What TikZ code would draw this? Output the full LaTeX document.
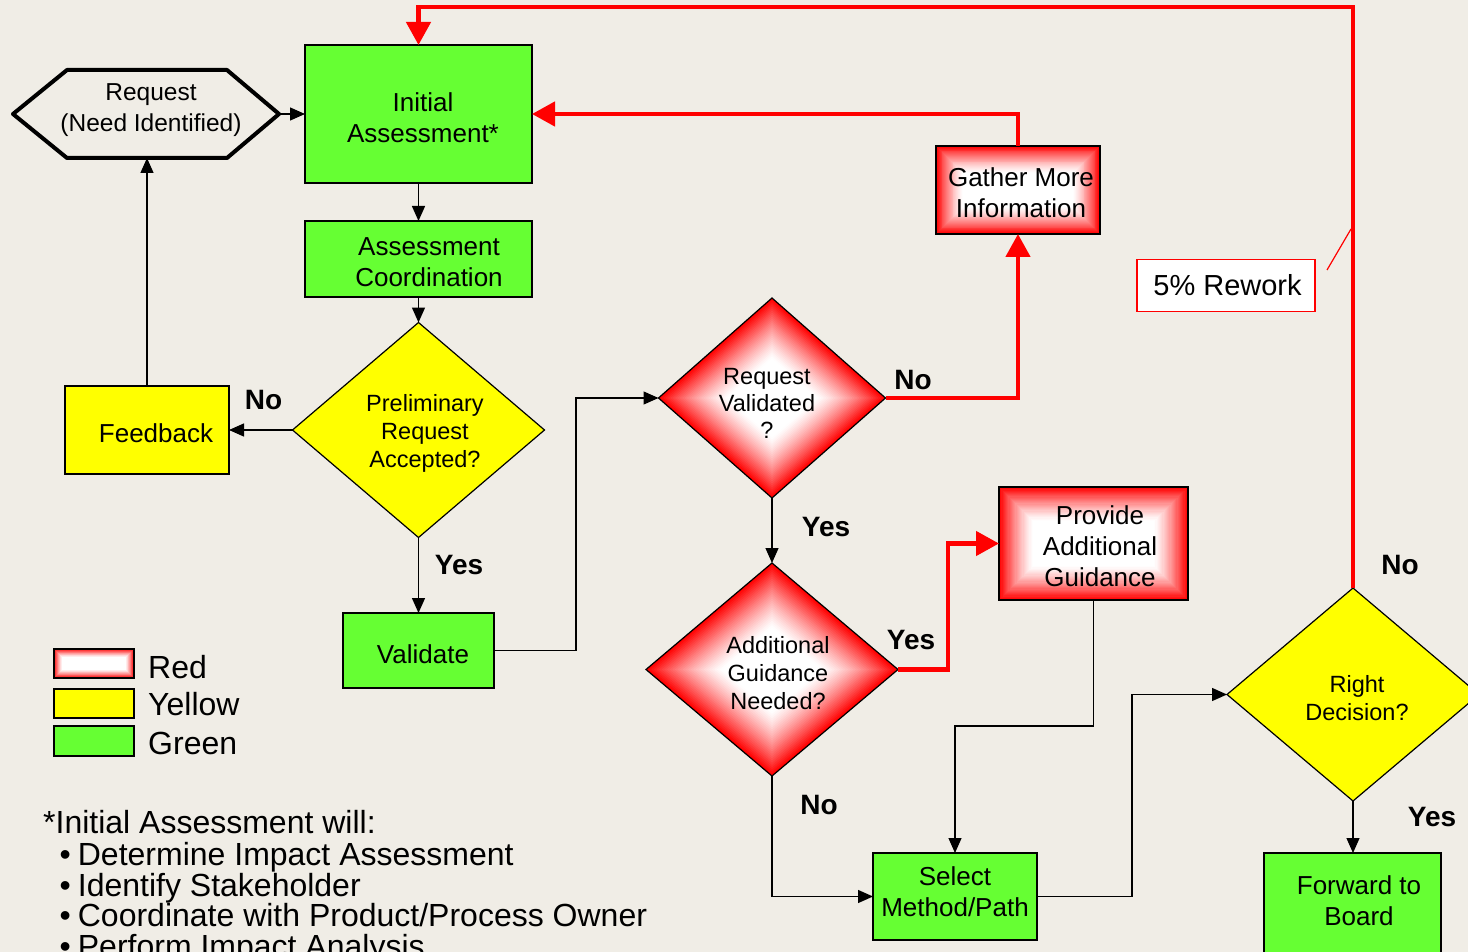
\documentclass[tikz,border=0pt]{standalone}
\usepackage{fontspec}
\setmainfont{Liberation Sans}
\usetikzlibrary{shapes.geometric,arrows.meta,calc}
\definecolor{bgc}{RGB}{240,237,230}
\definecolor{grn}{RGB}{102,255,51}
\definecolor{ylw}{RGB}{255,255,0}
\newcommand{\fsz}[2]{\fontsize{#1}{#2}\selectfont}
\tikzset{
  shapebox/.style={draw=black, line width=1.4pt, rectangle, inner sep=0pt, outer sep=0pt},
  decision/.style={draw=black, line width=1.2pt, diamond, inner sep=0pt, outer sep=0pt,
    minimum width=252pt, minimum height=214pt},
  boxtext/.style={align=center, inner sep=0pt, font=\fsz{26}{31}},
  diatext/.style={align=center, inner sep=0pt, font=\fsz{23.5}{28}},
  answer/.style={inner sep=0pt, font=\bfseries\fsz{28}{30}},
  legtext/.style={anchor=west, inner sep=0pt, font=\fsz{32}{32}},
  notetext/.style={anchor=base west, inner sep=0pt, font=\fsz{32}{31}},
  flow/.style={draw=black, line width=1.3pt, -{Triangle[length=15pt,width=13pt]}},
  loop/.style={draw=red, line width=4.5pt, -{Triangle[length=23pt,width=24pt]}},
  % rectangular red-to-white fill, insets of equal depth on every side
  redgrad/.style={path picture={
    \foreach \i in {0,...,47}{
      \pgfmathsetmacro\gd{#1*\i/48}
      \pgfmathsetmacro\gp{100*(max(0,1-\i/28.8))^1.3}
      \fill[red!\gp!white] ([shift={(\gd,\gd)}]path picture bounding box.north west)
        rectangle ([shift={(-\gd,-\gd)}]path picture bounding box.south east);
    }}},
  % diamond red-to-white fill, nested diamonds shrinking to the centre
  reddia/.style={path picture={
    \path (path picture bounding box.center) coordinate (gc)
          (path picture bounding box.north) coordinate (gn)
          (path picture bounding box.east) coordinate (ge)
          (path picture bounding box.south) coordinate (gs)
          (path picture bounding box.west) coordinate (gw);
    \foreach \i in {0,...,47}{
      \pgfmathsetmacro\gs{1-\i/48}
      \pgfmathsetmacro\gp{100*(max(0,1-\i/28.8))^1.3}
      \fill[red!\gp!white] ($(gc)!\gs!(gn)$) -- ($(gc)!\gs!(ge)$) -- ($(gc)!\gs!(gs)$) -- ($(gc)!\gs!(gw)$) -- cycle;
    }}},
}
\begin{document}
\begin{tikzpicture}[x=1pt,y=-1pt]
\fill[bgc] (0,0) rectangle (1468,952);
\useasboundingbox (0,0) rectangle (1468,952);

% ---- start: request hexagon
\node[minimum width=266pt, minimum height=88pt, inner sep=0pt, outer sep=0pt] (req) at (146,114) {};
\draw[black, line width=4pt, line join=round]
  (req.west) -- ([xshift=54pt]req.north west) -- ([xshift=-52pt]req.north east) -- (req.east)
  -- ([xshift=-52pt]req.south east) -- ([xshift=54pt]req.south west) -- cycle;
\node[align=center, inner sep=0pt, font=\fsz{24.5}{31}] (req-t) at (151,110) {Request\\(Need Identified)};

% ---- process boxes
\node[shapebox, fill=grn, minimum width=227pt, minimum height=138pt] (ia) at (418.5,114) {};
\node[boxtext] (ia-t) at (423,117.5) {Initial\\Assessment*};

\node[shapebox, fill=grn, minimum width=227pt, minimum height=76pt] (ac) at (418.5,259) {};
\node[boxtext] (ac-t) at (429,262.5) {Assessment\\Coordination};

\node[shapebox, fill=ylw, minimum width=164pt, minimum height=88pt] (fb) at (147,430) {};
\node[boxtext] (fb-t) at (156,433) {Feedback};

\node[shapebox, fill=grn, minimum width=151pt, minimum height=75pt] (val) at (418.5,650.5) {};
\node[boxtext] (val-t) at (423,654) {Validate};

\node[shapebox, redgrad=44, minimum width=164pt, minimum height=88pt] (gm) at (1018,190) {};
\node[boxtext] (gm-t) at (1021,193) {Gather More\\Information};

\node[shapebox, redgrad=56, minimum width=189pt, minimum height=113pt] (pag) at (1093.5,543.5) {};
\node[boxtext] (pag-t) at (1100,546.5) {Provide\\Additional\\Guidance};

\node[shapebox, fill=grn, minimum width=164pt, minimum height=87pt] (sm) at (955,896.5) {};
\node[boxtext] (sm-t) at (955,892) {Select\\Method/Path};

\node[shapebox, fill=grn, minimum width=177pt, minimum height=120pt] (fwd) at (1352.5,913) {};
\node[boxtext] (fwd-t) at (1359,901) {Forward to\\Board};

% ---- decisions
\node[decision, fill=ylw, minimum width=252pt, minimum height=215pt] (pra) at (418.5,430) {};
\node[diatext] (pra-t) at (425,433) {Preliminary\\Request\\Accepted?};

\node[decision, reddia, minimum width=227pt, minimum height=200pt] (rv) at (772,398) {};
\node[diatext, font=\fsz{23.5}{27}] (rv-t) at (767,403) {Request\\Validated\\?};

\node[decision, reddia, minimum width=252pt, minimum height=213pt] (ag) at (772,669.5) {};
\node[diatext] (ag-t) at (778,673) {Additional\\Guidance\\Needed?};

\node[decision, fill=ylw, minimum width=252pt, minimum height=213pt] (rd) at (1353,694.5) {};
\node[diatext] (rd-t) at (1357,698) {Right\\Decision?};

% ---- rework callout
\node[draw=red, line width=1.3pt, fill=white, inner sep=0pt, minimum width=178pt, minimum height=52pt,
  font=\fsz{29}{31}] (rw) at (1226,285.5) {\hspace{3pt}5\% Rework};
\coordinate (co1) at (1327,270);
\coordinate (co2) at (1351,229);

% ---- connectors
\draw[flow] (req.east) -- (ia.west);
\draw[flow] (ia.south) -- (ac.north);
\draw[flow] (ac.south) -- (pra.north);
\draw[flow] (pra.west) -- (fb.east);
\draw[flow] (fb.north) -- (fb.north |- req.south);
\draw[flow] (pra.south) -- (val.north);
\draw[flow] (val.east) -- ++(82,0) |- (rv.west);
\draw[loop] (rv.east) -| (gm.south);
\draw[loop] (gm.north) |- (ia.east);
\draw[flow] (rv.south) -- (ag.north);
\draw[loop] (ag.east) -- ++(50,0) |- (pag.west);
\draw[flow] (ag.south) |- (sm.west);
\draw[flow] (pag.south) -- ++(0,126) -| (sm.north);
\draw[flow] (sm.east) -- ++(95,0) |- (rd.west);
\coordinate (top) at (0,7);
\draw[loop] (rd.north) |- (top -| ia.north) -- (ia.north);
\draw[flow] (rd.south) -- (rd.south |- fwd.north);
\draw[red, line width=1.2pt] (co1) -- (co2);

% ---- answers
\node[answer] (a1) at (263.5,400.5) {No};
\node[answer] (a2) at (459,565) {Yes};
\node[answer] (a3) at (913,380) {No};
\node[answer] (a4) at (826,527) {Yes};
\node[answer] (a5) at (911,640) {Yes};
\node[answer] (a6) at (819,805) {No};
\node[answer] (a7) at (1400,565) {No};
\node[answer] (a8) at (1432,817) {Yes};

% ---- legend
\node[shapebox, line width=2pt, redgrad=14, minimum width=80pt, minimum height=29pt] (lr) at (94,663.5) {};
\node[shapebox, line width=2pt, fill=ylw, minimum width=80pt, minimum height=29pt] (ly) at (94,703.5) {};
\node[shapebox, line width=2pt, fill=grn, minimum width=80pt, minimum height=30pt] (lg) at (94,741) {};
\node[legtext] (lr-t) at (148,667) {Red};
\node[legtext] (ly-t) at (148,704.5) {Yellow};
\node[legtext] (lg-t) at (148,743) {Green};

% ---- footnote
\node[notetext] (n0) at (43,833) {*Initial Assessment will:};
\node[notetext] (n1) at (59.5,865) {\textbullet\hspace{7pt}Determine Impact Assessment};
\node[notetext] (n2) at (59.5,896) {\textbullet\hspace{7pt}Identify Stakeholder};
\node[notetext] (n3) at (59.5,926.5) {\textbullet\hspace{7pt}Coordinate with Product/Process Owner};
\node[notetext] (n4) at (59.5,957) {\textbullet\hspace{7pt}Perform Impact Analysis};
\end{tikzpicture}
\end{document}
